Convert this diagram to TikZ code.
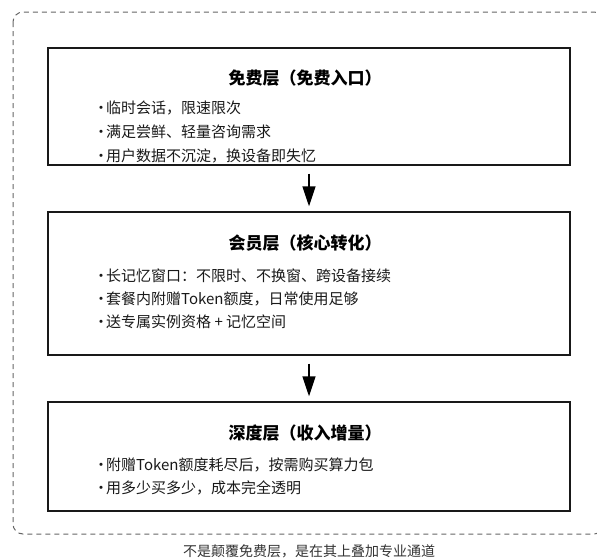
\documentclass[tikz,border=0pt]{standalone}
\usepackage{fontspec}
\setmainfont{Noto Sans CJK SC}
\usepackage{tikz}
\usetikzlibrary{arrows.meta}

\newcommand{\dotmark}{\makebox[10pt]{•}}

\begin{document}
\begin{tikzpicture}[x=1pt, y=-1pt,
	tier/.style={draw=black!90, line width=1.4pt, minimum width=522pt, inner sep=0pt},
	tiertitle/.style={font=\fontsize{17}{20}\selectfont\bfseries, text=black},
	item/.style={anchor=west, inner sep=0pt, font=\fontsize{15}{18}\selectfont, text=black!90},
	flow/.style={-{Triangle[width=13pt,length=20pt]}, line width=1.4pt, shorten <=8pt, shorten >=5pt}]
	\useasboundingbox (0,0) rectangle (597,558);
	\clip (0,0) rectangle (597,558);
	% dashed frame, open to the right
	\draw [black!60, line width=1pt, dash pattern=on 5pt off 4pt, rounded corners=10pt] (13,12) rectangle (604,534);

	% tier boxes
	\node [tier, minimum height=117pt] (free) at (309,106.5) {};
	\node [tier, minimum height=143pt] (member) at (309,283.5) {};
	\node [tier, minimum height=109pt] (deep) at (309,456.5) {};

	\node [tiertitle] (freet) at (305,78) {免费层（免费入口）};
		\node [item] (f1) at (96,108) {\dotmark 临时会话，限速限次};
		\node [item] (f2) at (96,132) {\dotmark 满足尝鲜、轻量咨询需求};
		\node [item] (f3) at (96,156) {\dotmark 用户数据不沉淀，换设备即失忆};

	\node [tiertitle] (membert) at (305,243) {会员层（核心转化）};
		\node [item] (m1) at (96,276) {\dotmark 长记忆窗口：不限时、不换窗、跨设备接续};
		\node [item] (m2) at (96,299) {\dotmark 套餐内附赠Token额度，日常使用足够};
		\node [item] (m3) at (96,322) {\dotmark 送专属实例资格 + 记忆空间};

	\node [tiertitle] (deept) at (305,433) {深度层（收入增量）};
		\node [item] (d1) at (96,465) {\dotmark 附赠Token额度耗尽后，按需购买算力包};
		\node [item] (d2) at (96,488) {\dotmark 用多少买多少，成本完全透明};

	\draw [flow] (free) -- (member);
	\draw [flow] (member) -- (deep);

	\node [font=\fontsize{14}{16}\selectfont, text=black!80] (note) at (309,551) {不是颠覆免费层，是在其上叠加专业通道};
\end{tikzpicture}
\end{document}
